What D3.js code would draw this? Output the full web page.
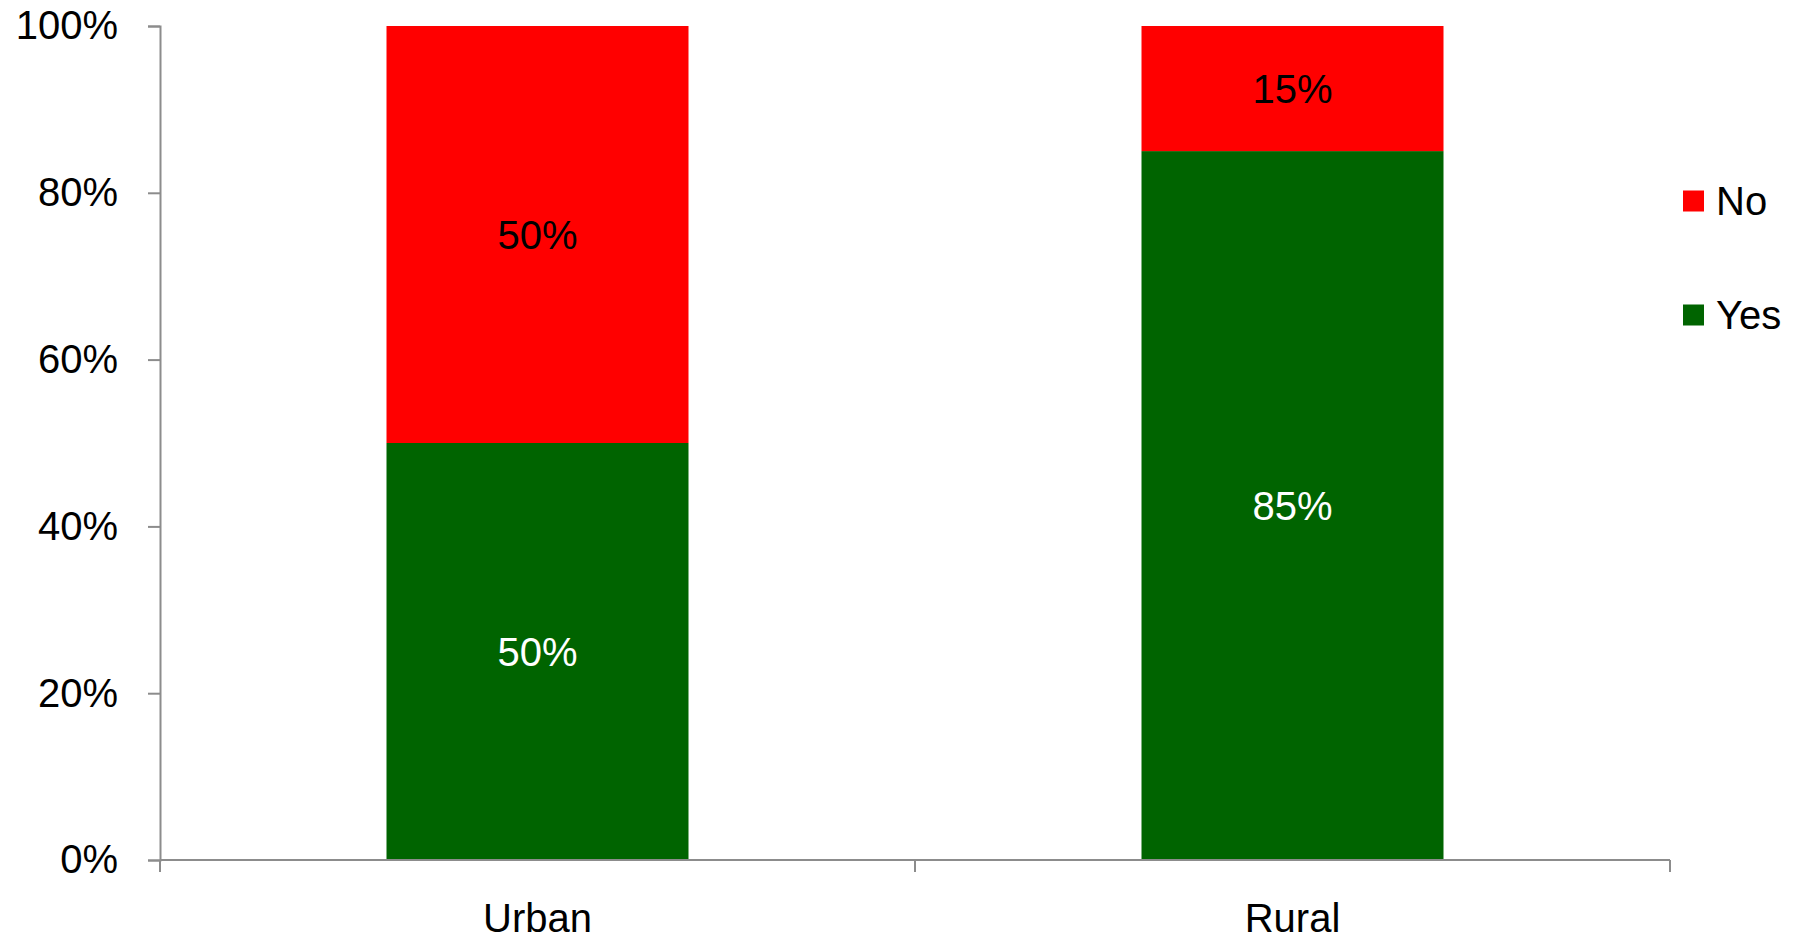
<!DOCTYPE html>
<html>
<head>
<meta charset="utf-8">
<script src="https://cdn.jsdelivr.net/npm/d3@7"></script>
<style>
  html, body { margin: 0; padding: 0; background: #fff; }
  svg { display: block; font-family: "Liberation Sans", Arial, sans-serif; }
</style>
</head>
<body>
<svg id="chart" width="1802" height="941"></svg>
<script>
const categories = ["Urban", "Rural"];
const seriesNames = ["Yes", "No"];
const yesValues = [50, 85];
const noValues = [50, 15];
const yTicks = [0, 20, 40, 60, 80, 100];
const colors = { Yes: "#006400", No: "#FF0000" };
const labelColors = { Yes: "#ffffff", No: "#000000" };

const svg = d3.select("#chart");
const margin = { left: 160, right: 132, top: 26, bottom: 81 };
const W = 1802, H = 941;
const FS = 40;
const x = d3.scaleBand().domain(categories).range([margin.left, W - margin.right]).padding(0);
const y = d3.scaleLinear().domain([0, 100]).range([H - margin.bottom, margin.top]);
const barW = x.bandwidth() * 0.4;
const axisColor = "#8c8c8c";

const data = categories.map((c, i) => ({ cat: c, Yes: yesValues[i], No: noValues[i] }));
const stacked = d3.stack().keys(seriesNames)(data);

// bars
stacked.forEach(layer => {
  const key = layer.key;
  svg.append("g").selectAll("rect").data(layer).join("rect")
    .attr("x", d => x(d.data.cat) + (x.bandwidth() - barW) / 2)
    .attr("width", barW)
    .attr("y", d => y(d[1]))
    .attr("height", d => y(d[0]) - y(d[1]))
    .attr("fill", colors[key]);
  svg.append("g").selectAll("text").data(layer).join("text")
    .attr("x", d => x(d.data.cat) + x.bandwidth() / 2)
    .attr("y", d => (y(d[0]) + y(d[1])) / 2)
    .attr("dy", "0.35em")
    .attr("text-anchor", "middle")
    .attr("font-size", FS)
    .attr("fill", labelColors[key])
    .text(d => (d[1] - d[0]) + "%");
});

// y axis
const yAxis = d3.axisLeft(y).tickValues(yTicks).tickFormat(d => d + "%").tickSize(12).tickPadding(30);
const gy = svg.append("g").attr("transform", `translate(${margin.left},0)`).call(yAxis);
gy.select(".domain").attr("stroke", axisColor).attr("stroke-width", 2);
gy.selectAll(".tick line").attr("stroke", axisColor).attr("stroke-width", 2);
gy.selectAll(".tick text").attr("font-size", FS).attr("fill", "#000")
  .attr("font-family", "Liberation Sans, Arial, sans-serif");

// x axis
const xAxis = d3.axisBottom(x).tickSize(0).tickPadding(0).tickFormat(d => d);
const gx = svg.append("g").attr("transform", `translate(0,${y(0)})`).call(xAxis);
gx.select(".domain").attr("stroke", axisColor).attr("stroke-width", 2).attr("d", `M${margin.left},0H${W - margin.right}`);
gx.selectAll(".tick line").remove();
gx.selectAll(".tick text").attr("font-size", FS).attr("fill", "#000")
  .attr("y", 72).attr("dy", 0)
  .attr("font-family", "Liberation Sans, Arial, sans-serif");
// category boundary ticks
const boundaries = [margin.left, ...categories.map(c => x(c) + x.bandwidth())];
svg.append("g").selectAll("line").data(boundaries).join("line")
  .attr("x1", d => d).attr("x2", d => d)
  .attr("y1", y(0)).attr("y2", y(0) + 12)
  .attr("stroke", axisColor).attr("stroke-width", 2);

// legend
const legendItems = ["No", "Yes"];
const lg = svg.append("g").attr("transform", "translate(1683,0)");
legendItems.forEach((k, i) => {
  const cy = 201 + i * 114;
  lg.append("rect").attr("x", 0).attr("y", cy - 10.5).attr("width", 21).attr("height", 21).attr("fill", colors[k]);
  lg.append("text").attr("x", 33).attr("y", cy).attr("dy", "0.35em")
    .attr("font-size", FS).attr("fill", "#000").text(k);
});
</script>
</body>
</html>
